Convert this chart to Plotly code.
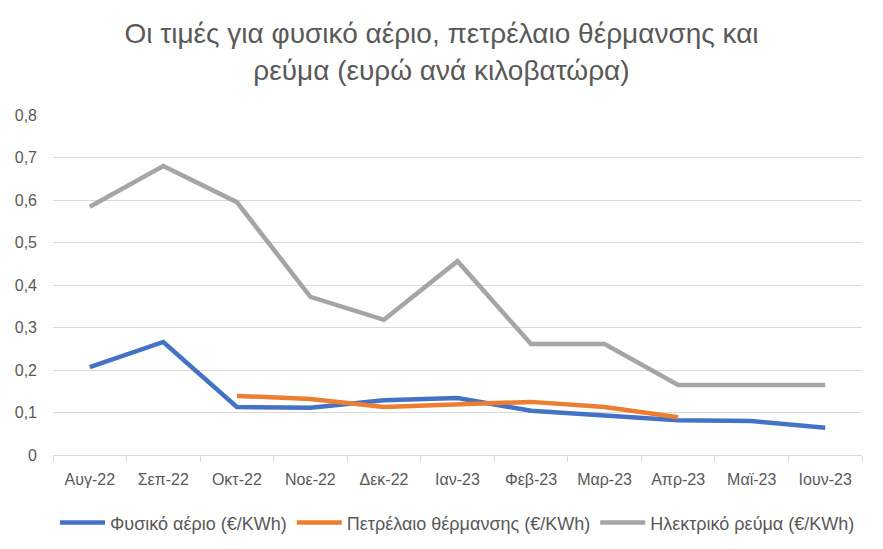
import plotly.graph_objects as go

months = ["Αυγ-22", "Σεπ-22", "Οκτ-22", "Νοε-22", "Δεκ-22", "Ιαν-23",
          "Φεβ-23", "Μαρ-23", "Απρ-23", "Μαϊ-23", "Ιουν-23"]

# ευρώ ανά κιλοβατώρα
fysiko_aerio = [0.207, 0.266, 0.113, 0.111, 0.129, 0.134, 0.104, 0.094, 0.082, 0.080, 0.064]
petrelaio = [None, None, 0.139, 0.132, 0.113, 0.118, 0.125, 0.113, 0.089, None, None]
revma = [0.584, 0.680, 0.595, 0.372, 0.318, 0.456, 0.261, 0.261, 0.165, 0.165, 0.165]

y_ticks = [0, 0.1, 0.2, 0.3, 0.4, 0.5, 0.6, 0.7, 0.8]

fig = go.Figure()
fig.add_trace(go.Scatter(x=months, y=fysiko_aerio, mode="lines",
                         name="Φυσικό αέριο (€/KWh)",
                         line=dict(color="#4472C4", width=4.5)))
fig.add_trace(go.Scatter(x=months, y=petrelaio, mode="lines",
                         name="Πετρέλαιο θέρμανσης (€/KWh)",
                         line=dict(color="#ED7D31", width=4.5)))
fig.add_trace(go.Scatter(x=months, y=revma, mode="lines",
                         name="Ηλεκτρικό ρεύμα (€/KWh)",
                         line=dict(color="#A5A5A5", width=4.5)))

# the page body adds 8px around the figure, so size and margins allow for it
fig.update_layout(
    width=867, height=533,
    margin=dict(l=45, r=13, t=107, b=86, autoexpand=False),
    paper_bgcolor="white", plot_bgcolor="white",
    separators=",.",
    font=dict(family="Liberation Sans, Arial, sans-serif", size=16, color="#595959"),
    title=dict(text="Οι τιμές για φυσικό αέριο, πετρέλαιο θέρμανσης και<br>ρεύμα (ευρώ ανά κιλοβατώρα)",
               x=0.5, xanchor="center", y=0.934, yanchor="middle",
               font=dict(size=28, color="#595959")),
    showlegend=True,
    legend=dict(orientation="h", x=0.5, xanchor="center", yref="container",
                y=0.034, yanchor="middle",
                font=dict(size=18, color="#595959"), itemwidth=45, tracegroupgap=0),
    xaxis=dict(range=[-0.5, 10.5], showgrid=False, showline=True, linecolor="#D9D9D9",
               linewidth=1, ticks="outside", tickson="boundaries", ticklen=6,
               tickcolor="#D9D9D9", tickfont=dict(size=16, color="#595959"),
               ticklabelstandoff=10, fixedrange=True, automargin=False),
    yaxis=dict(range=[0, 0.8], tickvals=y_ticks, showgrid=True, gridcolor="#D9D9D9",
               gridwidth=1, zeroline=False, showline=False, ticks="",
               tickfont=dict(size=16, color="#595959"), ticklabelstandoff=15,
               automargin=False),
)

fig.write_html("out.html")
